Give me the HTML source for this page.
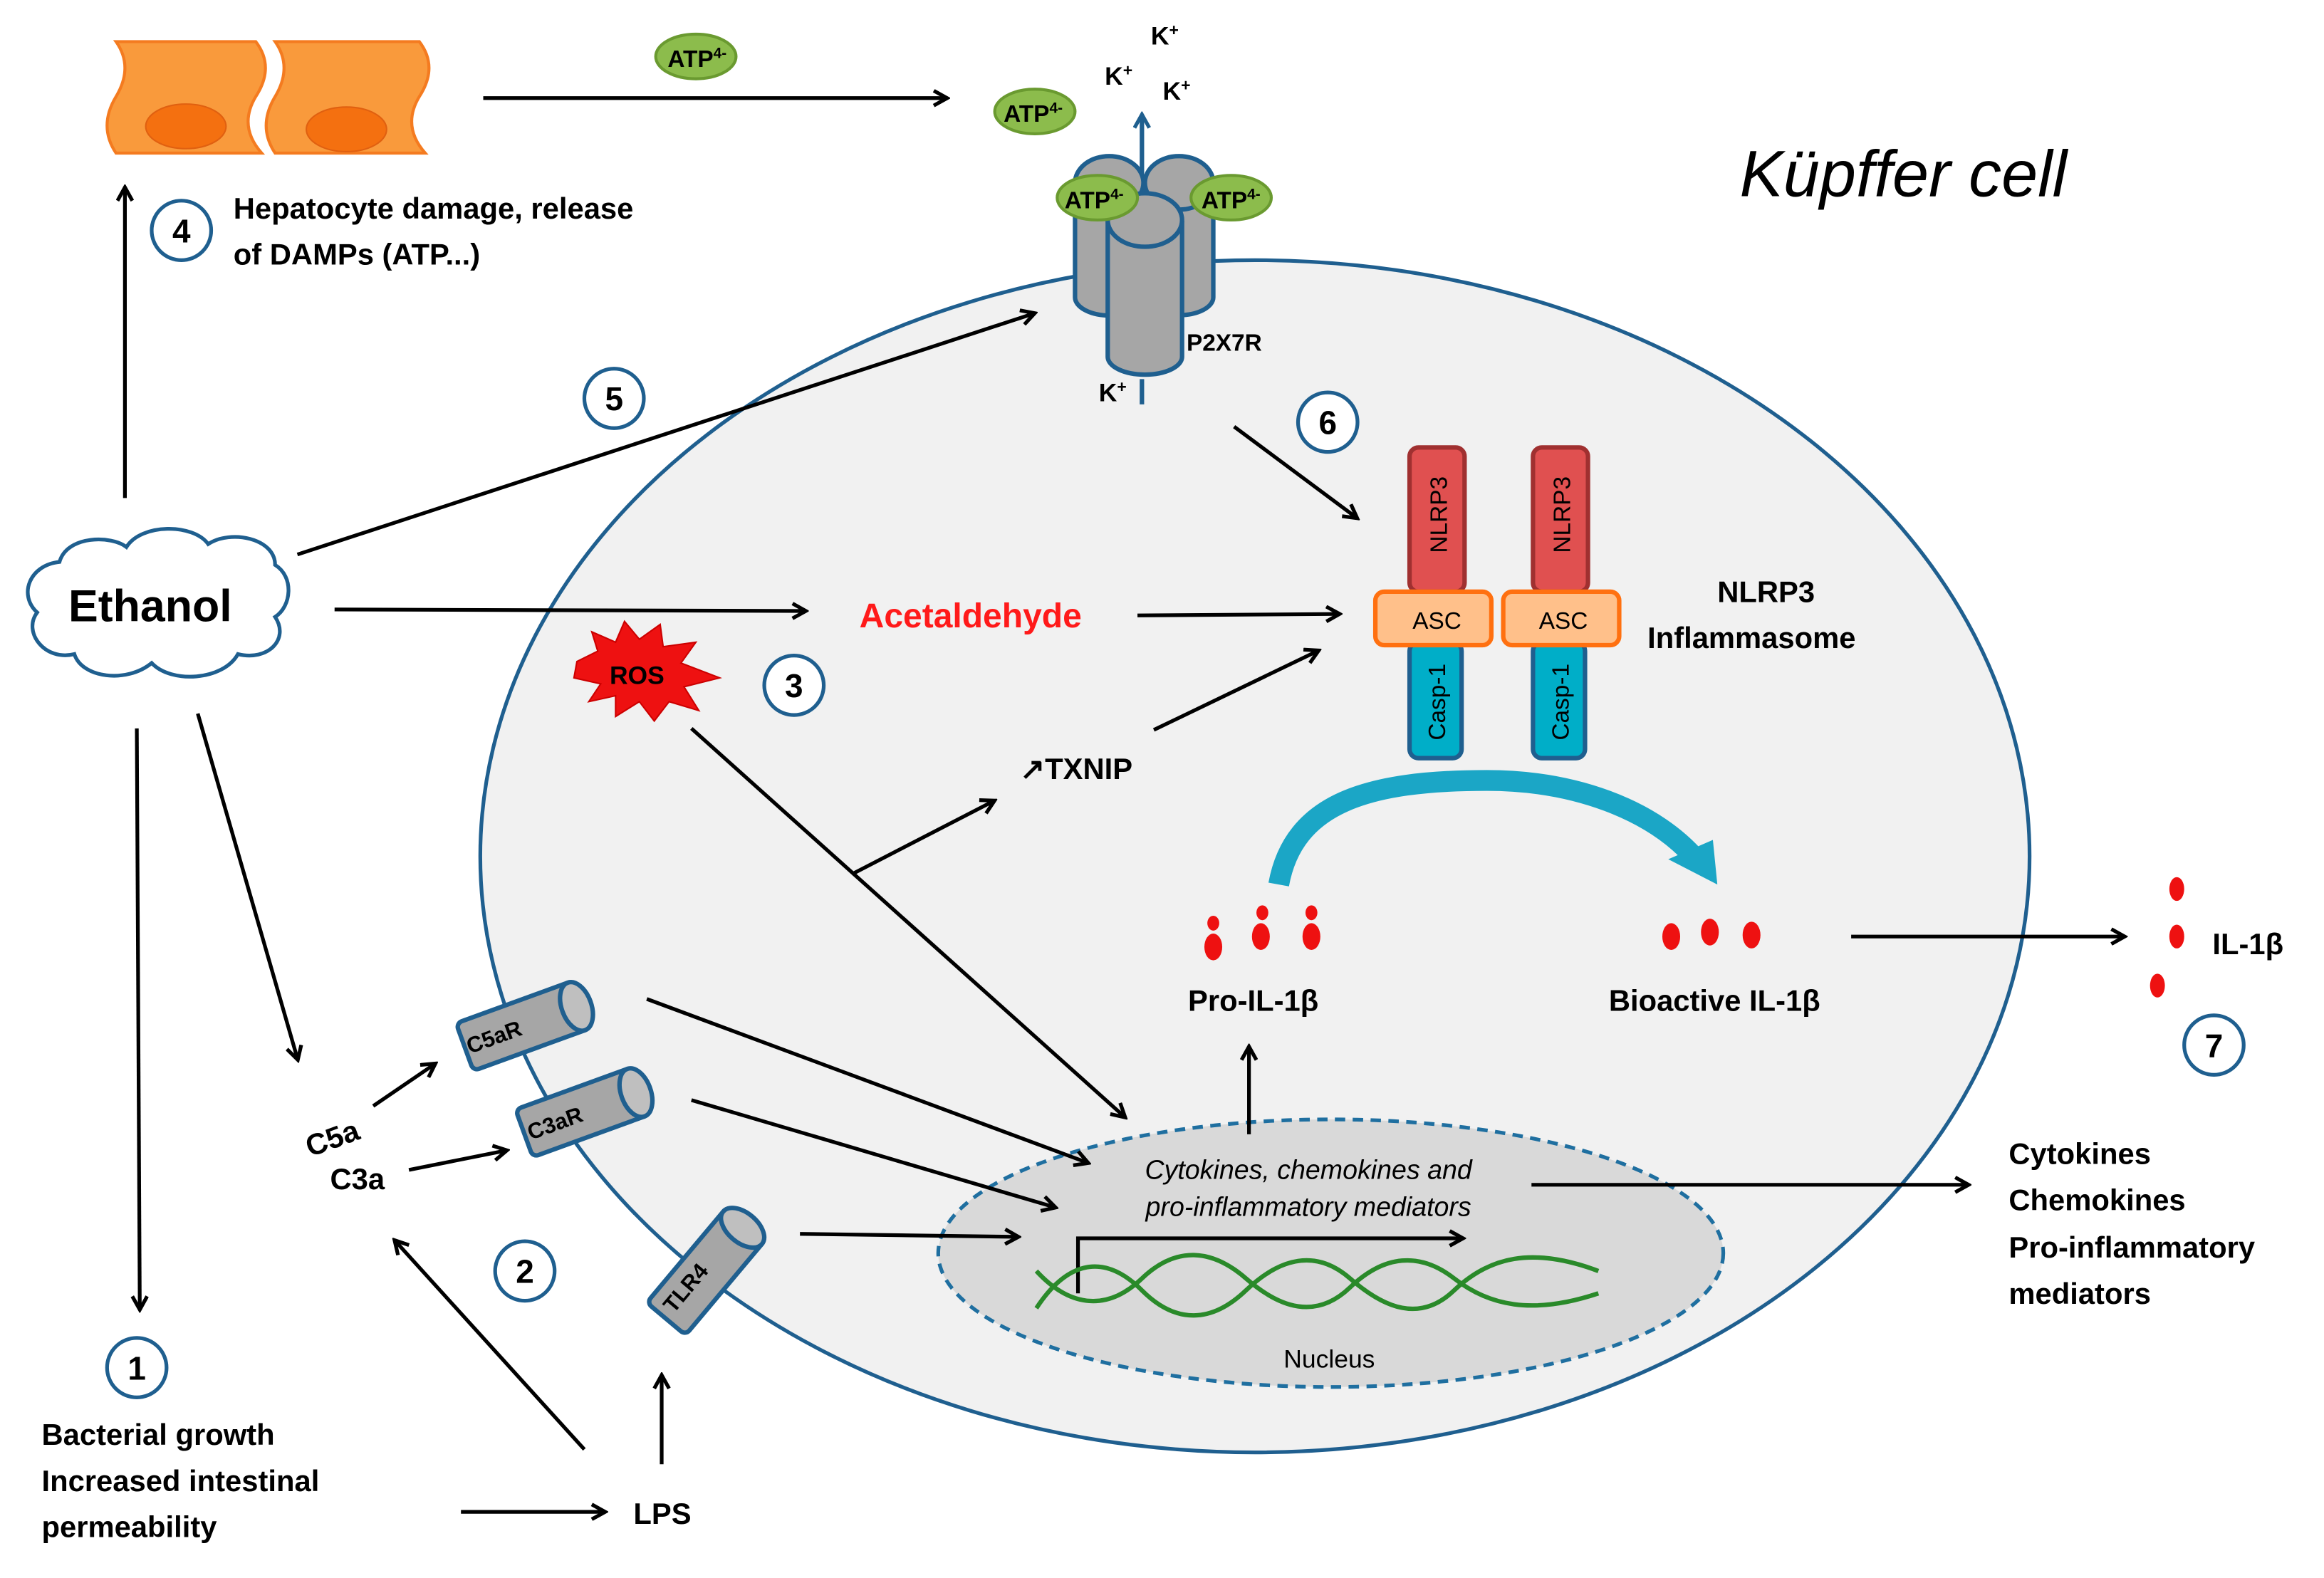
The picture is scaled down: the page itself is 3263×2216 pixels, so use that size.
<!DOCTYPE html>
<html><head><meta charset="utf-8"><style>
html,body{margin:0;padding:0;background:#fff}
svg{display:block}
text{font-family:"Liberation Sans",sans-serif}
.b{font-weight:bold}
</style></head><body>
<svg width="3263" height="2216" viewBox="0 0 1563 1061.5" xmlns="http://www.w3.org/2000/svg">
<defs>
<marker id="ah" markerWidth="12" markerHeight="12" refX="9" refY="6" orient="auto" markerUnits="userSpaceOnUse">
<path d="M1,1 L10,6 L1,11" fill="none" stroke="#000" stroke-width="2.5"/></marker>
<marker id="ahb" markerWidth="12" markerHeight="12" refX="9" refY="6" orient="auto" markerUnits="userSpaceOnUse">
<path d="M1,1 L10,6 L1,11" fill="none" stroke="#1f5f8f" stroke-width="2.5"/></marker>
<g id="cyl">
<rect x="-42" y="-17" width="84" height="34" rx="4" fill="#a6a6a6" stroke="#1f5f8f" stroke-width="3"/>
<ellipse cx="38" cy="0" rx="10" ry="17" fill="#bfbfbf" stroke="#1f5f8f" stroke-width="3"/>
</g>
</defs>
<!-- cell -->
<ellipse cx="844" cy="576" rx="521" ry="401" fill="#f1f1f1" stroke="#1f5f8f" stroke-width="2.5"/>
<ellipse cx="895" cy="843" rx="264" ry="90" fill="#d9d9d9" stroke="#1f6fa0" stroke-width="2.5" stroke-dasharray="7,5"/>
<!-- hepatocytes -->
<g fill="#f99a3c" stroke="#f47b20" stroke-width="2">
<path d="M78,28 H172 Q185,45 172,65 Q160,85 176,103 H78 Q66,85 78,65 Q90,45 78,28Z"/>
<path d="M185,28 H282 Q295,45 282,65 Q270,85 286,103 H185 Q173,85 185,65 Q197,45 185,28Z"/>
</g>
<ellipse cx="125" cy="85" rx="27" ry="15" fill="#f47010" stroke="#e06010"/>
<ellipse cx="233" cy="87" rx="27" ry="15" fill="#f47010" stroke="#e06010"/>
<!-- ATP -->
<g stroke="#6a9a30" stroke-width="2" fill="#8cbc4c">
<ellipse cx="468" cy="38" rx="27" ry="15"/><ellipse cx="696" cy="75" rx="27" ry="15"/>
</g>
<!-- P2X7R -->
<g fill="#a6a6a6" stroke="#1f5f8f" stroke-width="3">
<path d="M723,125 V200 A23,12 0 0 0 770,200 V125Z"/>
<ellipse cx="746" cy="123" rx="23" ry="18"/>
<path d="M770,125 V200 A23,12 0 0 0 816,200 V125Z"/>
<ellipse cx="793" cy="123" rx="23" ry="18"/>
<path d="M745,150 V240 A25,12 0 0 0 795,240 V150Z"/>
<ellipse cx="770" cy="148" rx="25" ry="18"/>
</g>
<line x1="768" y1="255" x2="768" y2="272" stroke="#1f5f8f" stroke-width="3"/>
<line x1="768" y1="118" x2="768" y2="78" stroke="#1f5f8f" stroke-width="3" marker-end="url(#ahb)"/>
<g stroke="#6a9a30" stroke-width="2" fill="#8cbc4c">
<ellipse cx="738" cy="133" rx="27" ry="15"/><ellipse cx="828" cy="133" rx="27" ry="15"/>
</g>
<g class="b" font-size="16">
<text x="449" y="45">ATP<tspan font-size="10" dy="-6">4-</tspan></text>
<text x="675" y="82">ATP<tspan font-size="10" dy="-6">4-</tspan></text>
<text x="716" y="140">ATP<tspan font-size="10" dy="-6">4-</tspan></text>
<text x="808" y="140">ATP<tspan font-size="10" dy="-6">4-</tspan></text>
<text x="774" y="30" font-size="17">K<tspan font-size="11" dy="-6">+</tspan></text>
<text x="743" y="57" font-size="17">K<tspan font-size="11" dy="-6">+</tspan></text>
<text x="782" y="67" font-size="17">K<tspan font-size="11" dy="-6">+</tspan></text>
<text x="739" y="270" font-size="17">K<tspan font-size="11" dy="-6">+</tspan></text>
<text x="798" y="236" font-size="16">P2X7R</text>
</g>
<text x="1170" y="132" font-size="44" font-style="italic">Küpffer cell</text>
<!-- arrows -->
<g stroke="#000" stroke-width="2.5" fill="none" marker-end="url(#ah)">
<line x1="325" y1="66" x2="636" y2="66"/>
<line x1="84" y1="335" x2="84" y2="127"/>
<line x1="200" y1="373" x2="695" y2="211"/>
<line x1="225" y1="410" x2="541" y2="411"/>
<line x1="765" y1="414" x2="900" y2="413"/>
<line x1="776" y1="491" x2="886" y2="438"/>
<line x1="830" y1="287" x2="912" y2="348"/>
<line x1="465" y1="490" x2="756" y2="751"/>
<line x1="573" y1="588" x2="668" y2="539"/>
<line x1="92" y1="490" x2="94" y2="880"/>
<line x1="133" y1="480" x2="200" y2="712"/>
<line x1="251" y1="744" x2="292" y2="716"/>
<line x1="275" y1="787" x2="340" y2="774"/>
<line x1="393" y1="975" x2="266" y2="835"/>
<line x1="445" y1="985" x2="445" y2="926"/>
<line x1="310" y1="1017" x2="406" y2="1017"/>
<line x1="435" y1="672" x2="731" y2="782"/>
<line x1="465" y1="740" x2="709" y2="812"/>
<line x1="538" y1="830" x2="684" y2="832"/>
<line x1="840" y1="763" x2="840" y2="705"/>
<line x1="1030" y1="797" x2="1323" y2="797"/>
<line x1="1245" y1="630" x2="1428" y2="630"/>
<path d="M725,870 V833 H983"/>
</g>
<!-- DNA -->
<g stroke="#2a8a2a" stroke-width="3" fill="none">
<path d="M697,880 C720,845 745,845 768,868 S815,890 838,868 S885,840 908,860 S955,890 978,868 S1030,838 1075,855"/>
<path d="M697,855 C720,880 745,882 768,860 S815,840 838,860 S885,888 908,866 S955,842 978,860 S1030,885 1075,870"/>
</g>
<!-- inflammasome -->
<g stroke-width="3">
<rect x="948" y="301" width="37" height="97" rx="6" fill="#e05050" stroke="#a03030"/>
<rect x="1031" y="301" width="37" height="97" rx="6" fill="#e05050" stroke="#a03030"/>
<rect x="948" y="432" width="35" height="78" rx="6" fill="#00aec8" stroke="#1f5f8f"/>
<rect x="1031" y="432" width="35" height="78" rx="6" fill="#00aec8" stroke="#1f5f8f"/>
<rect x="925" y="398" width="78" height="36" rx="6" fill="#ffc08a" stroke="#ff7010"/>
<rect x="1011" y="398" width="78" height="36" rx="6" fill="#ffc08a" stroke="#ff7010"/>
</g>
<g font-size="16">
<text x="950" y="423">ASC</text><text x="1035" y="423">ASC</text>
<text transform="translate(973,372) rotate(-90)">NLRP3</text>
<text transform="translate(1056,372) rotate(-90)">NLRP3</text>
<text transform="translate(972,498) rotate(-90)">Casp-1</text>
<text transform="translate(1055,498) rotate(-90)">Casp-1</text>
</g>
<text class="b" font-size="20" x="1155" y="405">NLRP3</text>
<text class="b" font-size="20" x="1108" y="436">Inflammasome</text>
<!-- curved arrow -->
<path d="M860,595 C870,540 920,525 1000,525 C1060,525 1110,545 1138,575" fill="none" stroke="#1ba6c6" stroke-width="14"/>
<path d="M1122,578 L1155,595 L1152,565Z" fill="#1ba6c6"/>
<!-- drops -->
<g fill="#ee1111">
<ellipse cx="816" cy="621" rx="4" ry="5"/><ellipse cx="816" cy="637" rx="6" ry="9"/>
<ellipse cx="849" cy="614" rx="4" ry="5"/><ellipse cx="848" cy="630" rx="6" ry="9"/>
<ellipse cx="882" cy="614" rx="4" ry="5"/><ellipse cx="882" cy="630" rx="6" ry="9"/>
<ellipse cx="1124" cy="630" rx="6" ry="9"/><ellipse cx="1150" cy="627" rx="6" ry="9"/><ellipse cx="1178" cy="629" rx="6" ry="9"/>
<ellipse cx="1464" cy="598" rx="5" ry="8"/><ellipse cx="1464" cy="630" rx="5" ry="8"/><ellipse cx="1451" cy="663" rx="5" ry="8"/>
</g>
<!-- ROS -->
<path d="M388,445 L402,438 L398,425 L414,432 L420,418 L430,430 L444,420 L446,435 L468,432 L458,446 L484,456 L460,462 L470,478 L450,472 L440,485 L430,472 L414,482 L414,468 L396,472 L404,460 L386,456Z" fill="#ee1111" stroke="#c00" stroke-width="1"/>
<text class="b" x="410" y="460" font-size="17">ROS</text>
<!-- receptors -->
<use href="#cyl" transform="translate(352,690) rotate(-20)"/>
<use href="#cyl" transform="translate(392,748) rotate(-20)"/>
<use href="#cyl" transform="translate(475,855) rotate(-50)"/>
<text class="b" font-size="15" transform="translate(316,709) rotate(-20)">C5aR</text>
<text class="b" font-size="15" transform="translate(357,767) rotate(-20)">C3aR</text>
<text class="b" font-size="15" transform="translate(453,884) rotate(-50)">TLR4</text>
<!-- cloud -->
<path d="M40,378 C45,360 75,360 85,368 C95,352 130,352 140,366 C155,356 185,362 185,380 C198,388 196,408 185,415 C195,430 180,445 160,440 C150,458 115,460 102,446 C85,460 55,456 50,440 C30,445 15,425 25,412 C12,400 20,380 40,378Z" fill="#fff" stroke="#1f5f8f" stroke-width="2.5"/>
<text class="b" x="46" y="418" font-size="30">Ethanol</text>
<!-- number circles -->
<g fill="#fff" stroke="#1f5f8f" stroke-width="2.5">
<circle cx="122" cy="155" r="20"/><circle cx="413" cy="268" r="20"/><circle cx="893" cy="284" r="20"/>
<circle cx="534" cy="461" r="20"/><circle cx="353" cy="855" r="20"/><circle cx="92" cy="920" r="20"/><circle cx="1489" cy="703" r="20"/>
</g>
<g class="b" font-size="22" text-anchor="middle">
<text x="122" y="163">4</text><text x="413" y="276">5</text><text x="893" y="292">6</text>
<text x="534" y="469">3</text><text x="353" y="863">2</text><text x="92" y="928">1</text><text x="1489" y="711">7</text>
</g>
<!-- labels -->
<g class="b" font-size="20">
<text x="157" y="147">Hepatocyte damage, release</text>
<text x="157" y="178">of DAMPs (ATP...)</text>
<text x="578" y="422" fill="#ff1a1a" font-size="23">Acetaldehyde</text>
<text x="686" y="524">↗TXNIP</text>
<text x="799" y="680">Pro-IL-1β</text>
<text x="1082" y="680">Bioactive IL-1β</text>
<text x="1488" y="642">IL-1β</text>
<text x="205" y="772" transform="rotate(-20,225,765)">C5a</text>
<text x="222" y="800">C3a</text>
<text x="28" y="972">Bacterial growth</text>
<text x="28" y="1003">Increased intestinal</text>
<text x="28" y="1034">permeability</text>
<text x="426" y="1025">LPS</text>
<text x="1351" y="783">Cytokines</text>
<text x="1351" y="814">Chemokines</text>
<text x="1351" y="846">Pro-inflammatory</text>
<text x="1351" y="877">mediators</text>
</g>
<g font-size="18" font-style="italic" text-anchor="middle">
<text x="880" y="793">Cytokines, chemokines and</text>
<text x="880" y="818">pro-inflammatory mediators</text>
</g>
<text x="894" y="920" font-size="17" text-anchor="middle">Nucleus</text>
</svg>
</body></html>
